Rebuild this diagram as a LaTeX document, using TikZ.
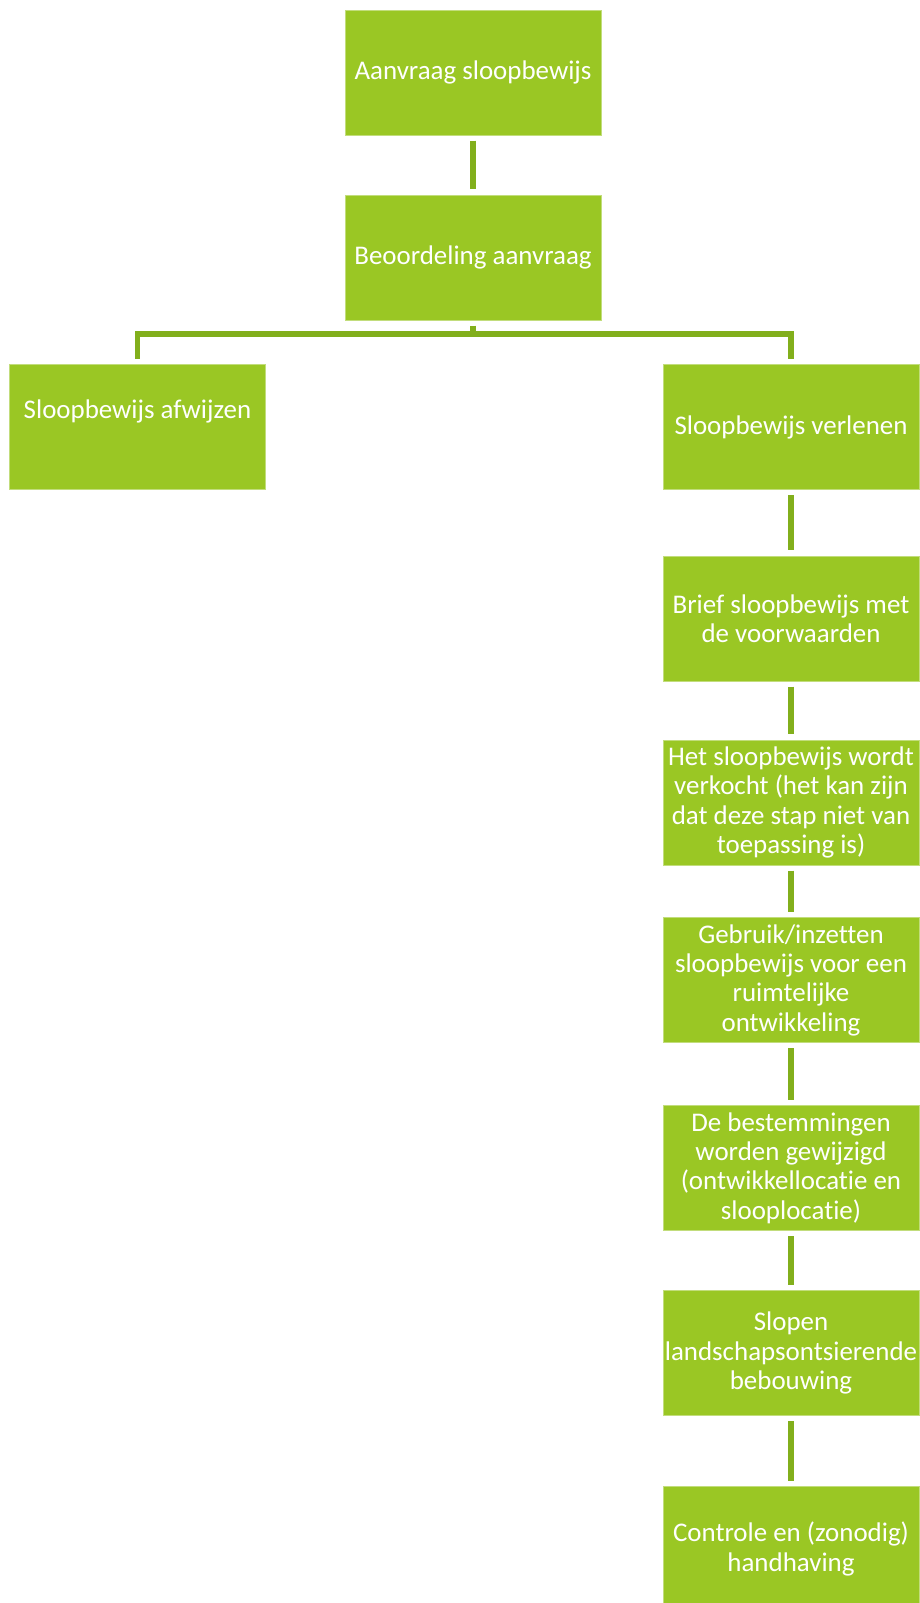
\documentclass[tikz,border=0pt]{standalone}
\usepackage{fontspec}
\setmainfont{Carlito}[Ligatures={NoCommon}]
\usepackage{tikz}
\usetikzlibrary{calc}

\definecolor{boxgreen}{RGB}{154,199,36}
\definecolor{linegreen}{RGB}{130,175,28}

\begin{document}
\begin{tikzpicture}[x=0.75pt,y=-0.75pt]
            \tikzstyle{stepbox}=[rectangle,fill=boxgreen,draw=boxgreen!60!white,line width=0.6pt,text=white,minimum width=192pt,minimum height=93.75pt,inner xsep=0.5pt,inner ysep=2pt,align=center,font=\fontsize{20.2}{22}\selectfont];
            \tikzstyle{link}=[draw=linegreen,line width=4.2pt,shorten <=4pt,shorten >=4pt];
            \fill[white] (0,0) rectangle (920,1603);
            \useasboundingbox (0,0) rectangle (920,1603);
            \node[stepbox] (aanvraag) at (473,72.5) {Aanvraag sloopbewijs};
            \node[stepbox] (beoordeling) at (473,257.5) {Beoordeling aanvraag};
            \node[stepbox,text height=15pt,text depth=27.5pt] (afwijzen) at (137.5,427) {Sloopbewijs afwijzen};
            \node[stepbox] (verlenen) at (791,427) {Sloopbewijs verlenen};
            \node[stepbox] (brief) at (791,618.5) {Brief sloopbewijs met\\de voorwaarden};
            \node[stepbox] (verkoop) at (791,802.5) {Het sloopbewijs wordt\\verkocht (het kan zijn\\dat deze stap niet van\\toepassing is)};
            \node[stepbox] (gebruik) at (791,980) {Gebruik/inzetten\\sloopbewijs voor een\\ruimtelijke\\ontwikkeling};
            \node[stepbox] (bestemming) at (791,1168) {De bestemmingen\\worden gewijzigd\\(ontwikkellocatie en\\slooplocatie)};
            \node[stepbox] (slopen) at (791,1353) {Slopen\\landschapsontsierende\\bebouwing};
            \node[stepbox] (controle) at (791,1549) {Controle en (zonodig)\\handhaving};
            \coordinate (split) at (473,334);
            \draw[link] (aanvraag) -- (beoordeling);
            \draw[link,shorten >=0pt] (beoordeling.south) -- (split);
            \draw[link,shorten <=0pt] (split) -| (afwijzen.north);
            \draw[link,shorten <=0pt] (split) -| (verlenen.north);
            \foreach \a/\b in {verlenen/brief,brief/verkoop,verkoop/gebruik,gebruik/bestemming,bestemming/slopen,slopen/controle} \draw[link] (\a) -- (\b);
            \end{tikzpicture}
\end{document}
